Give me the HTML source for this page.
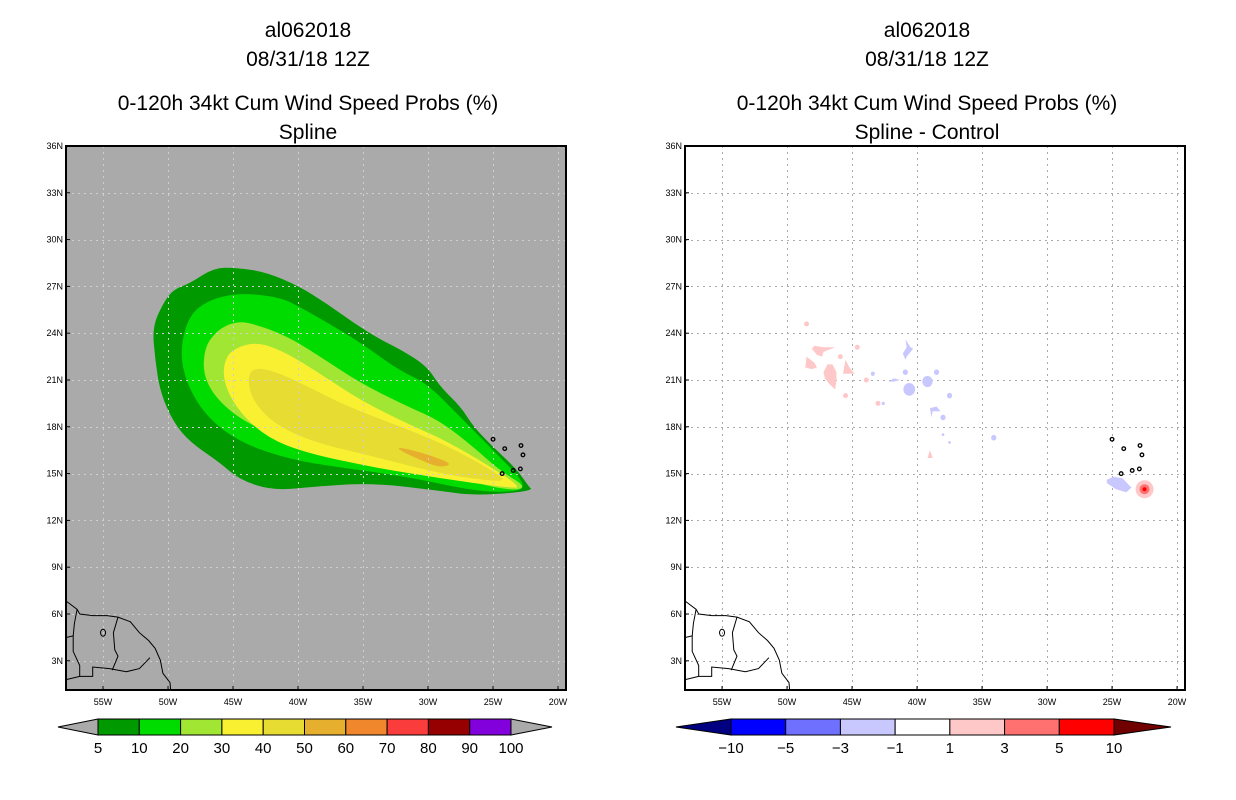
<!DOCTYPE html>
<html><head><meta charset="utf-8"><style>
body{margin:0;background:#fff;width:1236px;height:800px;overflow:hidden}
svg{display:block;font-family:"Liberation Sans",sans-serif}
.t{font-size:21px;text-anchor:middle;fill:#000}
.ax{font-size:9px;fill:#000}
.cb{font-size:15px;text-anchor:middle;fill:#000}
</style></head><body>
<svg id="s" width="1236" height="800">
<g>
<text class="t" x="308" y="37">al062018</text>
<text class="t" x="308" y="66">08/31/18 12Z</text>
<text class="t" x="308" y="110">0-120h 34kt Cum Wind Speed Probs (%)</text>
<text class="t" x="308" y="139">Spline</text>
</g>
<g>
<text class="t" x="927" y="37">al062018</text>
<text class="t" x="927" y="66">08/31/18 12Z</text>
<text class="t" x="927" y="110">0-120h 34kt Cum Wind Speed Probs (%)</text>
<text class="t" x="927" y="139">Spline - Control</text>
</g>
</svg>
<script>
// data (lonW, latN)
const contourLevels=[5,10,20,30,40,50];
const contourColors=['#009900','#00dc00','#a0e632','#faf032','#e6dc32','#e6af2d'];
const c5=[[46.5,28.2],[44.7,28.2],[42.4,27.9],[39.9,27.0],[37.8,25.9],[35.8,24.7],[33.7,23.6],[32.2,23.0],[30.1,21.9],[29.1,20.6],[27.5,19.3],[26.5,18.0],[25.0,16.7],[23.2,15.3],[22.2,14.1],[22.0,14.0],[22.9,13.8],[26.5,13.6],[29.1,13.9],[34.2,14.4],[38.3,14.2],[41.9,13.9],[44.5,14.6],[46.0,15.7],[48.3,17.0],[49.6,18.3],[50.6,20.2],[51.0,22.3],[51.2,24.4],[50.4,25.9],[49.6,26.8],[48.3,27.2]];
const c10=[[44.5,26.6],[41.4,26.3],[39.9,25.7],[37.8,24.7],[35.2,23.4],[32.2,21.6],[30.1,20.8],[27.5,18.6],[25.0,16.5],[22.2,14.1],[23.9,13.8],[26.5,13.9],[31.6,14.8],[36.8,15.4],[40.6,15.9],[44.5,17.0],[47.0,18.6],[48.5,20.6],[49.1,22.7],[48.5,25.0],[47.0,26.1]];
const c20=[[45.0,24.7],[43.7,24.7],[40.8,23.8],[38.3,22.5],[35.2,20.8],[31.6,19.3],[29.1,18.4],[26.5,16.7],[24.5,15.2],[22.3,14.1],[23.9,13.9],[29.1,15.0],[34.2,15.9],[39.3,16.7],[43.5,18.0],[46.0,19.5],[47.3,21.2],[47.2,23.1],[46.2,24.2]];
const c30=[[44.5,23.2],[42.9,23.4],[40.8,22.7],[38.3,21.4],[35.2,19.7],[31.6,18.2],[29.1,17.3],[26.5,16.1],[22.7,14.1],[23.9,14.1],[29.1,14.7],[34.2,15.4],[39.3,16.3],[42.4,17.3],[44.7,19.1],[45.8,21.0],[45.6,22.5]];
const c40=[[43.5,21.8],[41.9,21.6],[39.3,20.6],[36.2,19.3],[32.7,18.2],[29.1,17.0],[26.5,15.9],[23.9,14.6],[25.0,14.5],[29.1,15.0],[34.2,16.1],[38.8,17.0],[41.9,18.2],[43.5,19.7],[43.9,21.0]];
const c50=[[32.4,16.7],[31.2,16.5],[29.6,16.1],[28.1,15.6],[29.1,15.4],[30.1,15.7],[32.0,16.4]];
const diffPos=[
[[48.1,23.0],[47.9,23.2],[47.2,23.1],[46.3,23.1],[47.2,22.8],[47.3,22.5],[47.7,22.6]],
[[48.5,22.5],[47.9,22.1],[47.7,21.8],[48.1,21.7],[48.6,21.8]],
[[46.9,22.0],[46.5,22.0],[46.2,21.5],[46.2,21.0],[46.3,20.4],[46.7,20.7],[47.1,21.1],[47.2,21.5]],
[[45.5,22.3],[45.2,21.8],[44.8,21.4],[45.7,21.4]],
[[39.0,16.5],[39.2,16.0],[38.8,16.0]]];
const diffPosDots=[[48.5,24.6],[45.5,20.0],[45.9,22.5],[43.9,21.0],[43.0,19.5],[44.6,23.1]];
const diffNeg=[
[[40.9,23.6],[40.5,23.1],[40.3,23.0],[40.8,22.5],[40.9,22.3],[41.1,22.7],[40.8,23.1]],
[[42.2,20.9],[41.8,21.1],[41.3,21.0],[41.8,20.9]],
[[39.0,19.2],[38.5,19.3],[38.2,19.0],[38.8,19.0],[38.9,18.6]],
[[25.4,14.6],[24.9,14.8],[24.2,14.7],[23.5,14.1],[23.9,13.8],[24.7,14.0],[25.4,14.4]]];
const diffNegDots=[[40.6,20.4,0.45],[39.2,20.9,0.4],[38.5,21.5,0.2],[37.5,20.0,0.2],[40.9,21.5,0.2],[43.4,21.4,0.15],[38.0,18.6,0.2],[42.6,19.5,0.12],[38.0,17.5,0.1],[37.5,17.0,0.1],[34.1,17.3,0.2]];
const diffPeak=[22.5,14.0];
const coast=[[57.8,6.8],[57.0,6.3],[56.8,6.0],[55.8,5.9],[54.7,5.9],[53.85,5.8],[52.9,5.5],[52.2,4.8],[51.5,4.3],[51.0,3.8],[50.6,3.05],[50.4,2.2],[49.85,1.6],[49.8,1.1]];
const borders=[[[57.0,6.3],[57.2,5.4],[57.3,4.6],[57.8,4.5]],[[57.3,4.6],[57.3,3.6],[56.8,2.7],[56.8,2.0]],[[53.85,5.8],[54.2,4.8],[54.1,3.7],[53.85,3.3],[54.3,2.4]],[[57.8,1.8],[56.8,2.0],[55.8,2.0],[55.8,2.6],[54.5,2.5],[53.2,2.3],[52.2,2.5],[51.4,3.2]]];
const islands=[[25.0,17.2],[24.1,16.6],[22.85,16.8],[22.7,16.2],[23.45,15.2],[24.3,15.0],[22.9,15.3]];
const lonTicks=[55,50,45,40,35,30,25,20];
const latTicks=[36,33,30,27,24,21,18,15,12,9,6,3];
const leftBar=['#009900','#00dc00','#a0e632','#faf032','#e6dc32','#e6af2d','#f0872d','#fa3c3c','#960000','#8200dc'];
const leftBarLabels=['5','10','20','30','40','50','60','70','80','90','100'];
const rightBar=['#0000ff','#7070ff','#c8c8ff','#ffffff','#ffc8c8','#ff7070','#ff0000'];
const rightBarLabels=['-10','-5','-3','-1','1','3','5','10'];

const NS='http://www.w3.org/2000/svg', svg=document.getElementById('s');
function mk(t,a,p){const e=document.createElementNS(NS,t);for(const k in a)e.setAttribute(k,a[k]);(p||svg).appendChild(e);return e;}
const W=500,H=544,LON0=57.85,LAT0=36,PXLON=13,PXLAT=15.6;
function panel(x0,name){
  const g=mk('g',{});
  
  
  const X=l=>x0+(LON0-l)*PXLON, Y=l=>146+(LAT0-l)*PXLAT;
  return {g,X,Y,x0};
}
function pts(P,arr){return arr.map(p=>P.X(p[0]).toFixed(1)+','+P.Y(p[1]).toFixed(1)).join(' ');}
function smooth(P,arr){
  const q=arr.map(p=>[P.X(p[0]),P.Y(p[1])]),n=q.length;
  const m=(a,b)=>[(a[0]+b[0])/2,(a[1]+b[1])/2];
  let s=m(q[n-1],q[0]),d='M'+s[0].toFixed(1)+','+s[1].toFixed(1);
  for(let i=0;i<n;i++){const e=m(q[i],q[(i+1)%n]);d+=' Q'+q[i][0].toFixed(1)+','+q[i][1].toFixed(1)+' '+e[0].toFixed(1)+','+e[1].toFixed(1);}
  return d+'Z';
}
function bg(P,col){
  const r=mk('rect',{x:P.x0,y:146,width:W,height:H,fill:col},P.g);
  
  
}
function grid(P,col){
  const gg=mk('g',{stroke:col,'stroke-width':1,'stroke-dasharray':'2,4'},P.g);
  
  
  lonTicks.forEach(l=>{const x=Math.round(P.X(l))+0.5;if(x<P.x0+W)mk('line',{x1:x,x2:x,y1:146,y2:690},gg);});
  latTicks.forEach(l=>{const y=Math.round(P.Y(l))+0.5;if(y>147)mk('line',{x1:P.x0,x2:P.x0+W,y1:y,y2:y},gg);});
}
function axes(P){
  const ga=mk('g',{},P.g);
  
  
  lonTicks.forEach(l=>{const t=mk('text',{class:'ax',x:P.X(l),y:705,'text-anchor':'middle'},ga);t.textContent=l+'W';
    mk('line',{x1:P.X(l),x2:P.X(l),y1:686,y2:690,stroke:'#000'},ga);});
  latTicks.forEach(l=>{const t=mk('text',{class:'ax',x:P.x0-3,y:P.Y(l)+3,'text-anchor':'end'},ga);t.textContent=l+'N';
    mk('line',{x1:P.x0,x2:P.x0+4,y1:P.Y(l),y2:P.Y(l),stroke:'#000'},ga);});
  const f=mk('rect',{x:P.x0,y:146,width:W,height:H,fill:'none',stroke:'#000','stroke-width':2},P.g);
  
  
}
function geo(P){
  const gc=mk('g',{fill:'none',stroke:'#000','stroke-width':1},P.g);
  
  
  mk('polyline',{points:pts(P,coast)},gc);
  borders.forEach(b=>mk('polyline',{points:pts(P,b)},gc));
  mk('ellipse',{cx:P.X(55.0),cy:P.Y(4.8),rx:2.5,ry:3.5},gc);
  islands.forEach(p=>mk('circle',{cx:P.X(p[0]),cy:P.Y(p[1]),r:1.8,'stroke-width':1.3},gc));
}
// left
const L=panel(66,'probability-map');
bg(L,'#aaaaaa');
[c5,c10,c20,c30,c40,c50].forEach((c,i)=>{const p=mk('path',{d:smooth(L,c),fill:contourColors[i]},L.g);
  
  });
grid(L,'#cfcfcf'); geo(L); axes(L);
// right
const R=panel(685,'difference-map');
bg(R,'#ffffff');
grid(R,'#aaaaaa');
diffPos.forEach(c=>{const p=mk('polygon',{points:pts(R,c),fill:'#ffc8c8'},R.g);
  
  });
diffPosDots.forEach(d=>{const p=mk('circle',{cx:R.X(d[0]),cy:R.Y(d[1]),r:2.5,fill:'#ffc8c8'},R.g);
  
  });
diffNeg.forEach(c=>{const p=mk('polygon',{points:pts(R,c),fill:'#c8c8ff'},R.g);
  
  });
diffNegDots.forEach(d=>{const p=mk('ellipse',{cx:R.X(d[0]),cy:R.Y(d[1]),rx:d[2]*PXLON,ry:d[2]*PXLAT*0.9,fill:'#c8c8ff'},R.g);
  
  });
[[9,'#ffc8c8'],[5,'#ff7070'],[2,'#ff0000']].forEach(a=>{const p=mk('circle',{cx:R.X(diffPeak[0]),cy:R.Y(diffPeak[1]),r:a[0],fill:a[1]},R.g);
  
  });
geo(R); axes(R);
// colorbars
function colorbar(x0,x1,tipL,tipR,cols,lab,lc,rc,name){
  const g=mk('g',{stroke:'#000','stroke-width':1});
  
  
  const y0=719,y1=735,ym=727,w=(x1-x0)/cols.length;
  mk('polygon',{points:`${tipL},${ym} ${x0},${y0} ${x0},${y1}`,fill:lc},g);
  mk('polygon',{points:`${tipR},${ym} ${x1},${y0} ${x1},${y1}`,fill:rc},g);
  cols.forEach((c,i)=>{const r=mk('rect',{x:x0+i*w,y:y0,width:w,height:y1-y0,fill:c},g);
    
    });
  lab.forEach((t,i)=>{const e=mk('text',{class:'cb',x:x0+i*w,y:753,stroke:'none'},g);e.textContent=t.replace('-','\u2212');});
}
colorbar(98,511,58,552,leftBar,leftBarLabels,'#aaaaaa','#aaaaaa','probability-colorbar');
colorbar(731,1114,676,1171,rightBar,rightBarLabels,'#000080','#700000','difference-colorbar');
</script>
</body></html>
